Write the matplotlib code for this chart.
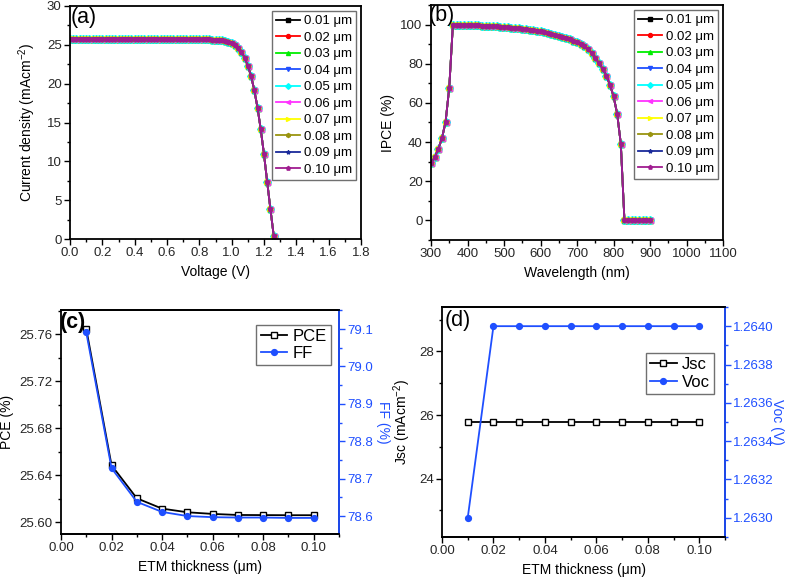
import numpy as np
import matplotlib
matplotlib.use('Agg')
import matplotlib.pyplot as plt
from matplotlib.ticker import MultipleLocator

plt.rcParams['font.family'] = ['Liberation Sans', 'DejaVu Sans']
plt.rcParams['mathtext.default'] = 'regular'

# ---------------- data ----------------
thick_labels = ['0.01 μm', '0.02 μm', '0.03 μm', '0.04 μm', '0.05 μm',
                '0.06 μm', '0.07 μm', '0.08 μm', '0.09 μm', '0.10 μm']

# (a) J-V curve (all thicknesses practically identical)
jv_v = [0.00, 0.02, 0.04, 0.06, 0.08, 0.10, 0.12, 0.14, 0.16, 0.18,
        0.20, 0.22, 0.24, 0.26, 0.28, 0.30, 0.32, 0.34, 0.36, 0.38,
        0.40, 0.42, 0.44, 0.46, 0.48, 0.50, 0.52, 0.54, 0.56, 0.58,
        0.60, 0.62, 0.64, 0.66, 0.68, 0.70, 0.72, 0.74, 0.76, 0.78,
        0.80, 0.82, 0.84, 0.86, 0.88, 0.90, 0.92, 0.94, 0.96, 0.98,
        1.00, 1.02, 1.04, 1.06, 1.08, 1.10, 1.12, 1.14, 1.16, 1.18,
        1.20, 1.22, 1.24, 1.26]
jv_j = [25.78, 25.78, 25.78, 25.78, 25.78, 25.78, 25.78, 25.78, 25.78, 25.78,
        25.78, 25.78, 25.78, 25.78, 25.78, 25.78, 25.78, 25.78, 25.78, 25.78,
        25.78, 25.78, 25.78, 25.78, 25.78, 25.78, 25.78, 25.78, 25.78, 25.78,
        25.78, 25.78, 25.78, 25.78, 25.77, 25.77, 25.77, 25.76, 25.76, 25.75,
        25.74, 25.73, 25.72, 25.70, 25.68, 25.65, 25.61, 25.56, 25.49, 25.39,
        25.24, 25.01, 24.65, 24.10, 23.35, 22.30, 21.00, 19.15, 16.90, 14.10,
        10.90, 7.30, 3.80, 0.45]

# (b) IPCE
wl = [300, 310, 320, 330, 340, 350, 360, 370, 380, 390,
      400, 410, 420, 430, 440, 450, 460, 470, 480, 490,
      500, 510, 520, 530, 540, 550, 560, 570, 580, 590,
      600, 610, 620, 630, 640, 650, 660, 670, 680, 690,
      700, 710, 720, 730, 740, 750, 760, 770, 780, 790,
      800, 810, 820, 830, 840, 850, 860, 870, 880, 890, 900]
ipce = [29.3, 32.2, 36.5, 41.9, 50.4, 67.8, 100.0, 99.9, 99.9, 99.8,
        99.8, 99.7, 99.7, 99.6, 99.5, 99.4, 99.3, 99.2, 99.1, 99.0,
        98.8, 98.7, 98.5, 98.3, 98.1, 97.9, 97.6, 97.4, 97.1, 96.8,
        96.5, 96.1, 95.7, 95.3, 94.8, 94.3, 93.8, 93.2, 92.5, 91.8,
        91.0, 90.1, 89.0, 87.7, 85.6, 83.0, 80.4, 77.5, 74.0, 69.4,
        63.5, 54.5, 39.2, 0.0, 0.0, 0.0, 0.0, 0.0, 0.0, 0.0, 0.0]

# (c), (d) vs ETM thickness
thk = [0.01, 0.02, 0.03, 0.04, 0.05, 0.06, 0.07, 0.08, 0.09, 0.10]
pce = [25.7645, 25.6485, 25.6204, 25.6116, 25.6085, 25.6071, 25.6062, 25.6061, 25.6060, 25.6060]
ff = [79.091, 78.728, 78.638, 78.611, 78.600, 78.597, 78.596, 78.596, 78.595, 78.595]
jsc = [25.78, 25.78, 25.78, 25.78, 25.78, 25.78, 25.78, 25.78, 25.78, 25.78]
voc = [1.2630, 1.2640, 1.2640, 1.2640, 1.2640, 1.2640, 1.2640, 1.2640, 1.2640, 1.2640]

# ---------------- styles ----------------
colors = ['#000000', '#ff0000', '#00ee00', '#1f4fff', '#00ffff',
          '#ff33ff', '#ffff00', '#9a9410', '#1a2a9a', '#a01c90']
marks = ['s', 'o', '^', 'v', 'D', '<', '>', 'h', '*', 'p']
blue = '#1f4fff'
tick_col = '#262626'

W, H = 789, 581
fig = plt.figure(figsize=(W / 100, H / 100), dpi=100)


def rect(x0, y0, x1, y1):
    return [x0 / W, 1 - y1 / H, (x1 - x0) / W, (y1 - y0) / H]


def style(ax, right=False):
    for s in ax.spines.values():
        s.set_linewidth(1.3)
    ax.tick_params(which='both', direction='out', labelsize=9.5, pad=2,
                   top=False, right=right, labelcolor=tick_col)
    ax.tick_params(which='major', length=4, width=1)
    ax.tick_params(which='minor', length=2.5, width=1)


def leg(ax, handles=None, labels=None, **kw):
    if handles is None:
        l = ax.legend(**kw)
    else:
        l = ax.legend(handles, labels, **kw)
    l.get_frame().set_edgecolor('#707070')
    l.get_frame().set_linewidth(1.0)
    l.get_frame().set_boxstyle('square', pad=0)
    return l


# (a)
axa = fig.add_axes(rect(70, 6, 361, 239))
for c, m, lab in zip(colors, marks, thick_labels):
    axa.plot(jv_v, jv_j, '-', marker=m, color=c, ms=3.6, lw=1.3, label=lab)
axa.set_xlim(0, 1.8)
axa.set_ylim(0, 30)
axa.xaxis.set_major_locator(MultipleLocator(0.2))
axa.xaxis.set_minor_locator(MultipleLocator(0.1))
axa.yaxis.set_major_locator(MultipleLocator(5))
axa.yaxis.set_minor_locator(MultipleLocator(2.5))
axa.xaxis.set_major_formatter(plt.FormatStrFormatter('%.1f'))
style(axa)
axa.set_xlabel('Voltage (V)', fontsize=10)
axa.set_ylabel('Current density (mAcm$^{-2}$)', fontsize=10, labelpad=6)
axa.text(0.003, 0.995, '(a)', transform=axa.transAxes, fontsize=15.5,
         va='top', ha='left')
leg(axa, loc='upper right', fontsize=9.5, borderpad=0.3, labelspacing=0.32,
    handlelength=1.8, handletextpad=0.3, borderaxespad=0.4, framealpha=1,
    markerscale=0.8)

# (b)
axb = fig.add_axes(rect(431, 5, 723, 240))
for c, m, lab in zip(colors, marks, thick_labels):
    axb.plot(wl, ipce, '-', marker=m, color=c, ms=3.6, lw=1.3, label=lab)
axb.set_xlim(300, 1100)
axb.set_ylim(-10, 110)
axb.xaxis.set_major_locator(MultipleLocator(100))
axb.xaxis.set_minor_locator(MultipleLocator(50))
axb.yaxis.set_major_locator(MultipleLocator(20))
axb.yaxis.set_minor_locator(MultipleLocator(10))
style(axb)
axb.set_yticks([0, 20, 40, 60, 80, 100])
axb.set_xlabel('Wavelength (nm)', fontsize=10)
axb.set_ylabel('IPCE (%)', fontsize=10, labelpad=4)
axb.text(-0.008, 1.0, '(b)', transform=axb.transAxes, fontsize=15.5,
         va='top', ha='left')
leg(axb, loc='upper right', fontsize=9.5, borderpad=0.3, labelspacing=0.32,
    handlelength=1.8, handletextpad=0.3, borderaxespad=0.4, framealpha=1,
    markerscale=0.8)

# (c)
axc = fig.add_axes(rect(61, 310, 339, 534))
h1, = axc.plot(thk, pce, '-s', color='k', mfc='white', mec='k', ms=4, lw=1.3,
               label='PCE')
axc.set_xlim(0, 0.11)
axc.set_ylim(25.590, 25.7807)
axc.xaxis.set_major_locator(MultipleLocator(0.02))
axc.xaxis.set_minor_locator(MultipleLocator(0.01))
axc.yaxis.set_major_locator(MultipleLocator(0.04))
axc.yaxis.set_minor_locator(MultipleLocator(0.02))
axc.xaxis.set_major_formatter(plt.FormatStrFormatter('%.2f'))
axc.yaxis.set_major_formatter(plt.FormatStrFormatter('%.2f'))
style(axc)
axc.set_xlabel('ETM thickness (μm)', fontsize=10)
axc.set_ylabel('PCE (%)', fontsize=10, labelpad=4)
axc.text(-0.005, 0.99, '(c)', transform=axc.transAxes, fontsize=15.5,
         fontweight='bold', va='top', ha='left')
axc2 = axc.twinx()
h2, = axc2.plot(thk, ff, '-o', color=blue, ms=4.2, lw=1.3, label='FF')
axc2.set_ylim(78.552, 79.151)
axc2.yaxis.set_major_locator(MultipleLocator(0.1))
axc2.yaxis.set_minor_locator(MultipleLocator(0.05))
axc2.yaxis.set_major_formatter(plt.FormatStrFormatter('%.1f'))
style(axc2, right=True)
axc2.spines['left'].set_visible(False)
axc2.spines['right'].set_color(blue)
axc2.tick_params(axis='y', which='both', colors=blue, labelcolor=blue)
axc2.set_ylabel('FF (%)', fontsize=10, color=blue, rotation=270, labelpad=12)
leg(axc2, [h1, h2], ['PCE', 'FF'], loc='upper right', fontsize=12,
    borderpad=0.25, labelspacing=0.15, handlelength=1.6, handletextpad=0.3,
    bbox_to_anchor=(0.97, 0.935), borderaxespad=0, framealpha=1)

# (d)
axd = fig.add_axes(rect(442, 307, 725, 537))
h3, = axd.plot(thk, jsc, '-s', color='k', mfc='white', mec='k', ms=4, lw=1.3,
               label='Jsc')
axd.set_xlim(0, 0.11)
axd.set_ylim(22.16, 29.40)
axd.xaxis.set_major_locator(MultipleLocator(0.02))
axd.xaxis.set_minor_locator(MultipleLocator(0.01))
axd.yaxis.set_major_locator(MultipleLocator(2))
axd.yaxis.set_minor_locator(MultipleLocator(1))
axd.xaxis.set_major_formatter(plt.FormatStrFormatter('%.2f'))
style(axd)
axd.set_xlabel('ETM thickness (μm)', fontsize=10)
axd.set_ylabel('Jsc (mAcm$^{-2}$)', fontsize=10, labelpad=4)
axd.text(0.008, 0.985, '(d)', transform=axd.transAxes, fontsize=15.5,
         va='top', ha='left')
axd2 = axd.twinx()
h4, = axd2.plot(thk, voc, '-o', color=blue, ms=4.2, lw=1.3, label='Voc')
axd2.set_ylim(1.26290, 1.26410)
axd2.yaxis.set_major_locator(MultipleLocator(0.0002))
axd2.yaxis.set_minor_locator(MultipleLocator(0.0001))
axd2.yaxis.set_major_formatter(plt.FormatStrFormatter('%.4f'))
style(axd2, right=True)
axd2.spines['left'].set_visible(False)
axd2.spines['right'].set_color(blue)
axd2.tick_params(axis='y', which='both', colors=blue, labelcolor=blue)
axd2.set_ylabel('Voc (V)', fontsize=10, color=blue, rotation=270, labelpad=7)
leg(axd2, [h3, h4], ['Jsc', 'Voc'], loc='upper right', fontsize=12,
    borderpad=0.25, labelspacing=0.15, handlelength=1.6, handletextpad=0.3,
    bbox_to_anchor=(0.96, 0.80), borderaxespad=0, framealpha=1)

fig.savefig('out.png', dpi=100)
